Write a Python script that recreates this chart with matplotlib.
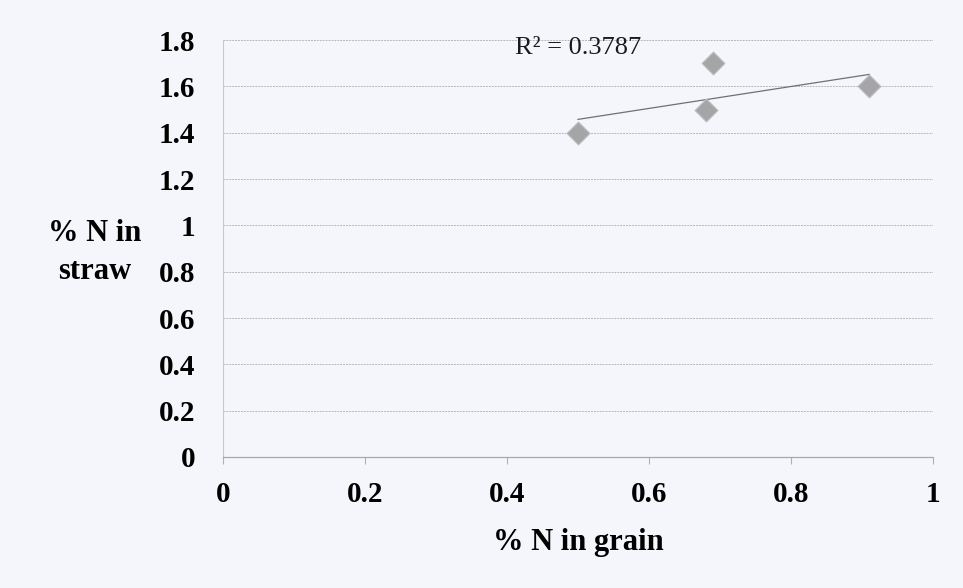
import numpy as np
import matplotlib.pyplot as plt

# % N in grain vs % N in straw
grainN = [0.5, 0.68, 0.69, 0.91]
strawN = [1.4, 1.5, 1.7, 1.6]
xTicks = [0, 0.2, 0.4, 0.6, 0.8, 1]
yTicks = [0, 0.2, 0.4, 0.6, 0.8, 1, 1.2, 1.4, 1.6, 1.8]
xTickLabels = ['0', '0.2', '0.4', '0.6', '0.8', '1']
yTickLabels = ['0', '0.2', '0.4', '0.6', '0.8', '1', '1.2', '1.4', '1.6', '1.8']


def main():
    plt.rcParams['font.family'] = ['Liberation Serif', 'DejaVu Serif']
    fig = plt.figure(figsize=(9.63, 5.88), dpi=100)
    fig.patch.set_facecolor('#f4f6fb')
    ax = fig.add_axes([0.2316, 0.2228, 0.7373, 0.709])
    ax.set_facecolor('#f4f6fb')

    ax.scatter(grainN, strawN, marker='D', s=135, color='#a5a5a8',
               edgecolors='#bdbdc0', linewidths=0.8, zorder=3)

    # linear trendline over the data range
    slope, inter = np.polyfit(grainN, strawN, 1)
    xs = np.array([min(grainN), max(grainN)])
    ax.plot(xs, slope * xs + inter, color='#707074', linewidth=0.9, zorder=2)

    ax.text(0.411, 1.768, 'R² = 0.3787', fontsize=19, color='#1a1a1a',
            va='center', ha='left')

    ax.set_xlim(0, 1)
    ax.set_ylim(0, 1.8)
    ax.set_xticks(xTicks)
    ax.set_xticklabels(xTickLabels, fontsize=21, fontweight='bold')
    ax.set_yticks(yTicks)
    ax.set_yticklabels(yTickLabels, fontsize=21, fontweight='bold')
    ax.tick_params(axis='x', length=5, color='#b0b0b4', pad=12)
    ax.tick_params(axis='y', length=0, pad=20)

    ax.grid(axis='y', color='#b8b8bc', linestyle=(0, (2, 1)), linewidth=0.7)
    for side in ['top', 'right']:
        ax.spines[side].set_visible(False)
    ax.spines['left'].set_color('#c8c8cc')
    ax.spines['left'].set_linewidth(0.8)
    ax.spines['bottom'].set_color('#a8a8ac')
    ax.spines['bottom'].set_linewidth(0.9)

    ax.set_xlabel('% N in grain', fontsize=22, fontweight='bold', labelpad=15)
    fig.text(0.098, 0.57, '% N in\nstraw', fontsize=22, fontweight='bold',
             ha='center', va='center', linespacing=1.4)

    fig.savefig('out.png', dpi=100, facecolor=fig.get_facecolor())


if __name__ == '__main__':
    main()
